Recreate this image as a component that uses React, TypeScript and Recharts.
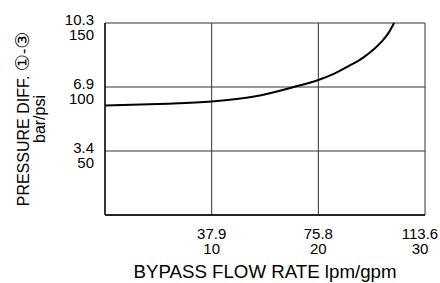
import { LineChart, Line, XAxis, YAxis, CartesianGrid, Label } from "recharts"

// flow in gpm, pressure diff in psi
const flowGpm = [0, 5, 10, 14, 17.7, 20, 21.5, 23, 24.2, 25.2, 26, 26.6, 27.1]
const pressurePsi = [85.5, 86.8, 88.6, 92.5, 100, 105.5, 110.5, 117, 123, 129.5, 136, 142.5, 150]

const xTicksGpm = [10, 20, 30]
const xTicksLpm = ["37.9", "75.8", "113.6"]
const yTicksPsi = [50, 100, 150]
const yTicksBar = ["3.4", "6.9", "10.3"]

const data = flowGpm.map((gpm, i) => ({ gpm, psi: pressurePsi[i] }))

const FONT = "'Liberation Sans', Arial, sans-serif"
const INK = "#000"

function XTick({ x, y, payload }: any) {
  const i = xTicksGpm.indexOf(payload.value)
  // keep the last label inside the page
  const cx = Math.min(x, 420)
  return (
    <text x={cx} y={y} textAnchor="middle" fontSize={15} fontFamily={FONT} fill={INK}>
      <tspan x={cx} dy={22}>{xTicksLpm[i]}</tspan>
      <tspan x={cx} dy={15}>{payload.value}</tspan>
    </text>
  )
}

function YTick({ x, y, payload }: any) {
  const i = yTicksPsi.indexOf(payload.value)
  return (
    <text x={x} y={y} textAnchor="end" fontSize={15} fontFamily={FONT} fill={INK}>
      <tspan x={x} dy={2}>{yTicksBar[i]}</tspan>
      <tspan x={x} dy={15}>{payload.value}</tspan>
    </text>
  )
}

function XTitle({ viewBox }: any) {
  const cx = viewBox.x + viewBox.width / 2
  return (
    <text x={cx} y={278} textAnchor="middle" fontSize={18.7} fontFamily={FONT} fill={INK}>
      BYPASS FLOW RATE lpm/gpm
    </text>
  )
}

function YTitle() {
  const cy = 119
  return (
    <g fontFamily={FONT} fontSize={16} fill={INK}>
      <text x={29} y={cy} textAnchor="middle" transform={`rotate(-90 29 ${cy})`}>
        PRESSURE DIFF.{" "}
        <tspan fontSize={19} fontFamily="'DejaVu Sans', sans-serif">①</tspan>-
        <tspan fontSize={19} fontFamily="'DejaVu Sans', sans-serif">③</tspan>
      </text>
      <text x={45} y={cy} textAnchor="middle" transform={`rotate(-90 45 ${cy})`}>
        bar/psi
      </text>
    </g>
  )
}

export default function App() {
  return (
    <div style={{ width: 440, height: 283, background: "#fff" }}>
      <style>{`body{margin:0}.recharts-surface{overflow:visible}`}</style>
      <LineChart
        width={440}
        height={283}
        data={data}
        margin={{ top: 23, right: 15, bottom: 0, left: 0 }}
      >
        <CartesianGrid stroke="#333" strokeWidth={1} />
        <XAxis
          dataKey="gpm"
          type="number"
          domain={[0, 30]}
          ticks={xTicksGpm}
          tickLine={false}
          tickSize={0}
          height={68}
          axisLine={{ stroke: INK, strokeWidth: 1.3 }}
          tick={<XTick />}
        >
          <Label content={<XTitle />} />
        </XAxis>
        <YAxis
          type="number"
          domain={[0, 150]}
          ticks={yTicksPsi}
          tickLine={false}
          tickSize={0}
          tickMargin={11}
          width={105}
          axisLine={{ stroke: INK, strokeWidth: 1.3 }}
          tick={<YTick />}
        >
          <Label content={<YTitle />} />
        </YAxis>
        <Line
          dataKey="psi"
          type="monotone"
          stroke={INK}
          strokeWidth={2}
          dot={false}
          isAnimationActive={false}
        />
      </LineChart>
    </div>
  )
}
